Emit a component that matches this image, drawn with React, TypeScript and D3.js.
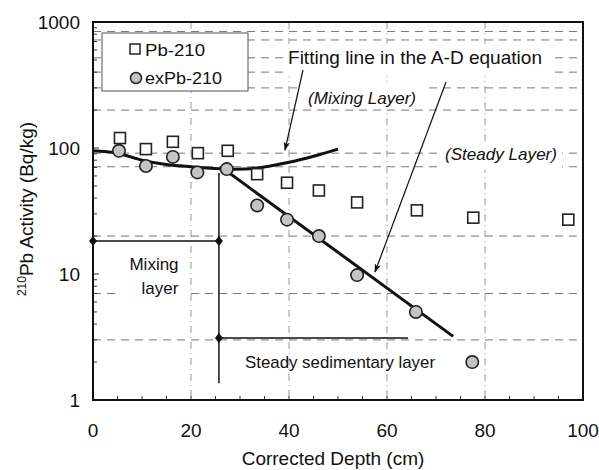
import * as d3 from 'd3';
import React from 'react';

// Pb-210 (total) and excess Pb-210
const depthPb = [5.5, 10.8, 16.3, 21.4, 27.5, 33.5, 39.6, 46.1, 53.9, 66.1, 77.6, 97];
const pb210 = [120, 98, 112, 91, 95, 62, 53, 46, 37, 32, 28, 27];
const depthEx = [5.3, 10.8, 16.3, 21.3, 27.3, 33.5, 39.6, 46.1, 53.9, 65.9, 77.4];
const exPb210 = [95, 72, 85, 64, 68, 35, 27, 20, 9.8, 5.0, 2.0];

// fitting lines (A-D equation)
const mixDepth = [0, 5, 10, 15, 20, 27, 33, 40, 45, 50];
const mixFit = [95, 91, 80, 74, 71, 68, 69, 77, 86, 98];
const steadyDepth = [26.5, 73.5];
const steadyFit = [69, 3.2];

// layer brackets
const mixBracket = { depth: [0, 25.7], value: 18.3 };
const steadyBracket = { depth: [25.7, 64.3], value: 3.1, bottom: 1.36 };

const xTicks = [0, 20, 40, 60, 80, 100];
const yTicks = [1, 10, 100, 1000];
const hGrid = [840, 720, 520, 400, 300, 200, 91, 71, 20, 7, 3];
const vGrid = [20, 40, 60, 80];

const W = 599, H = 470;
const FONT = '"Liberation Sans", Arial, sans-serif';

export default function App() {
  const x = d3.scaleLinear().domain([0, 100]).range([93, 583]);
  const y = d3.scaleLog().domain([1, 1000]).range([400, 22]);

  const line = d3.line<[number, number]>()
    .x(d => x(d[0]))
    .y(d => y(d[1]));
  const mixPath = line.curve(d3.curveCatmullRom)(mixDepth.map((d, i) => [d, mixFit[i]]));
  const steadyPath = d3.line<[number, number]>().x(d => x(d[0])).y(d => y(d[1]))(
    steadyDepth.map((d, i) => [d, steadyFit[i]]));

  const minorY: number[] = [];
  [1, 10, 100].forEach(b => { for (let k = 2; k <= 9; k++) minorY.push(b * k); });
  const minorX = d3.range(5, 100, 5);

  const diamond = (cx: number, cy: number, key: string) => (
    <path key={key} d={`M${cx},${cy - 5}L${cx + 4},${cy}L${cx},${cy + 5}L${cx - 4},${cy}Z`} fill="#111" />
  );

  return (
    <svg width={W} height={H} style={{ position: 'absolute', left: 0, top: 0, background: '#fff' }}
      fontFamily={FONT}>
      <defs>
        <marker id="arr" viewBox="0 0 10 10" refX="9" refY="5" markerWidth="9" markerHeight="9"
          orient="auto-start-reverse" markerUnits="userSpaceOnUse">
          <path d="M0,1.5L10,5L0,8.5L2.5,5Z" fill="#111" />
        </marker>
      </defs>

      {/* grid */}
      <g stroke="#777" strokeWidth={1} strokeDasharray="8,6">
        {hGrid.map(v => <line key={v} x1={93} x2={583} y1={y(v)} y2={y(v)} />)}
      </g>
      <g stroke="#999" strokeWidth={1} strokeDasharray="7,4,1,4">
        {vGrid.map(v => <line key={v} x1={x(v)} x2={x(v)} y1={22} y2={400} />)}
      </g>

      {/* minor ticks */}
      <g stroke="#333" strokeWidth={1}>
        {minorY.map(v => <line key={'my' + v} x1={93} x2={97} y1={y(v)} y2={y(v)} />)}
        {yTicks.map(v => <line key={'My' + v} x1={93} x2={99} y1={y(v)} y2={y(v)} />)}
        {minorX.map(v => <line key={'mx' + v} x1={x(v)} x2={x(v)} y1={400} y2={396} />)}
      </g>

      {/* annotation boxes */}
      <g fill="#fff">
        <rect x={283} y={44} width={272} height={32} />
        <rect x={302} y={85} width={126} height={24} />
        <rect x={440} y={142} width={122} height={28} />
        <rect x={118} y={250} width={72} height={50} />
      </g>
      <text x={288} y={64} fontSize={19} fill="#111" textLength={254} lengthAdjust="spacingAndGlyphs">Fitting line in the A-D equation</text>
      <text x={308} y={104} fontSize={17} fontStyle="italic" fill="#111" textLength={108} lengthAdjust="spacingAndGlyphs">(Mixing Layer)</text>
      <text x={445} y={160} fontSize={17} fontStyle="italic" fill="#111" textLength={112} lengthAdjust="spacingAndGlyphs">(Steady Layer)</text>
      <text x={154} y={270} fontSize={17} textAnchor="middle" fill="#111">Mixing</text>
      <text x={160} y={294} fontSize={17} textAnchor="middle" fill="#111">layer</text>
      <text x={245} y={368} fontSize={17} fill="#111" textLength={190} lengthAdjust="spacingAndGlyphs">Steady sedimentary layer</text>

      {/* brackets */}
      <g stroke="#111" strokeWidth={1.5}>
        <line x1={x(mixBracket.depth[0])} x2={x(mixBracket.depth[1])} y1={y(mixBracket.value)} y2={y(mixBracket.value)} />
        <line x1={x(steadyBracket.depth[0])} x2={x(steadyBracket.depth[0])} y1={y(mixFit[5]) + 4} y2={y(steadyBracket.bottom)} />
        <line x1={x(steadyBracket.depth[0])} x2={x(steadyBracket.depth[1])} y1={y(steadyBracket.value)} y2={y(steadyBracket.value)} />
      </g>
      {diamond(x(mixBracket.depth[0]), y(mixBracket.value), 'd1')}
      {diamond(x(mixBracket.depth[1]), y(mixBracket.value), 'd2')}
      {diamond(x(steadyBracket.depth[0]), y(steadyBracket.value), 'd3')}

      {/* fitting lines */}
      <path d={mixPath || ''} fill="none" stroke="#111" strokeWidth={3} />
      <path d={steadyPath || ''} fill="none" stroke="#111" strokeWidth={3} />

      {/* arrows */}
      <line x1={303} y1={70} x2={285} y2={150} stroke="#111" strokeWidth={1.2} markerEnd="url(#arr)" />
      <line x1={446} y1={82} x2={375} y2={272} stroke="#111" strokeWidth={1.2} markerEnd="url(#arr)" />

      {/* data */}
      {depthPb.map((d, i) => (
        <rect key={'p' + i} x={x(d) - 5.5} y={y(pb210[i]) - 5.5} width={11} height={11}
          fill="#fff" stroke="#222" strokeWidth={1.6} />
      ))}
      {depthEx.map((d, i) => (
        <circle key={'e' + i} cx={x(d)} cy={y(exPb210[i])} r={6.2}
          fill="#c4c4c4" stroke="#222" strokeWidth={1.6} />
      ))}

      {/* legend */}
      <rect x={102} y={33} width={146} height={58} fill="#fff" stroke="#555" strokeWidth={1} />
      <rect x={130} y={44} width={10} height={10} fill="#fff" stroke="#222" strokeWidth={1.5} />
      <text x={145} y={56} fontSize={17} fill="#111" textLength={60} lengthAdjust="spacingAndGlyphs">Pb-210</text>
      <circle cx={136} cy={78} r={5.5} fill="#c4c4c4" stroke="#222" strokeWidth={1.5} />
      <text x={145} y={84} fontSize={17} fill="#111" textLength={77} lengthAdjust="spacingAndGlyphs">exPb-210</text>

      {/* frame */}
      <rect x={93} y={22} width={490} height={378} fill="none" stroke="#111" strokeWidth={2} />

      {/* axes labels */}
      <g fontSize={19} fill="#111">
        {xTicks.map(v => (
          <text key={'xt' + v} x={x(v)} y={437} textAnchor="middle">{v}</text>
        ))}
        {yTicks.map(v => (
          <text key={'yt' + v} x={80} y={y(v) + 7} textAnchor="end">{v}</text>
        ))}
      </g>
      <text x={333} y={465} fontSize={19} textAnchor="middle" fill="#111">Corrected Depth (cm)</text>
      <text transform="translate(33,209) rotate(-90)" fontSize={19} textAnchor="middle" fill="#111">
        <tspan fontSize={12} dy={-7}>210</tspan>
        <tspan dy={7}>Pb Activity (Bq/kg)</tspan>
      </text>
    </svg>
  );
}
